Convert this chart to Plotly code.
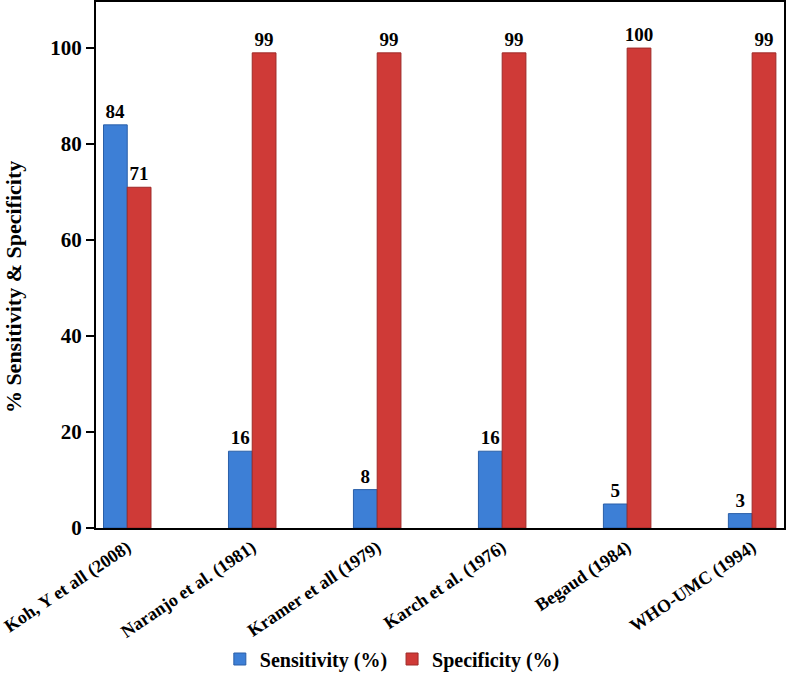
import plotly.graph_objects as go

studies = ["Koh, Y et all (2008)", "Naranjo et al. (1981)", "Kramer et all (1979)",
           "Karch et al. (1976)", "Begaud (1984)", "WHO-UMC (1994)"]
sensitivity = [84, 16, 8, 16, 5, 3]
specificity = [71, 99, 99, 99, 100, 99]

FONT = "Liberation Serif"
blue = "#3d7fd6"
red = "#cf3a37"

fig = go.Figure()
fig.add_trace(go.Bar(
    x=studies, y=sensitivity, name="Sensitivity (%)",
    marker=dict(color=blue, line=dict(color="#2a5fa8", width=1)),
    text=[str(v) for v in sensitivity], textposition="outside", constraintext="none",
    textfont=dict(family=FONT, size=19, color="black", weight="bold"), cliponaxis=False,
))
fig.add_trace(go.Bar(
    x=studies, y=specificity, name="Specificity (%)",
    marker=dict(color=red, line=dict(color="#9e2a28", width=1)),
    text=[str(v) for v in specificity], textposition="outside", constraintext="none",
    textfont=dict(family=FONT, size=19, color="black", weight="bold"), cliponaxis=False,
))

fig.update_layout(
    width=787, height=697,
    margin=dict(l=96, r=3, t=2, b=169, autoexpand=False),
    paper_bgcolor="white", plot_bgcolor="white",
    barmode="group", bargap=0.62, bargroupgap=0,
    font=dict(family=FONT, color="black"),
    legend=dict(orientation="h", x=0.18, xanchor="left", y=-0.212, yanchor="top",
                font=dict(family=FONT, size=20, color="black", weight="bold"),
                itemwidth=30, traceorder="normal"),
    showlegend=True,
    annotations=[dict(
        text="<b>% Sensitivity & Specificity</b>", textangle=-90,
        xref="paper", yref="paper", x=-0.1206, y=0.458,
        xanchor="center", yanchor="middle", showarrow=False,
        font=dict(family=FONT, size=22, color="black"),
    )],
)
fig.update_yaxes(
    range=[0, 109.6], tickvals=[0, 20, 40, 60, 80, 100],
    showgrid=False, zeroline=False, automargin=False,
    showline=True, linecolor="black", linewidth=2, mirror=True,
    ticks="outside", ticklen=8, tickwidth=2, tickcolor="black",
    tickfont=dict(family=FONT, size=21, color="black", weight="bold"),
)
fig.update_xaxes(
    range=[-0.25, 5.255], automargin=False,
    showgrid=False, showline=True, linecolor="black", linewidth=2, mirror=True,
    ticks="", tickangle=-34,
    tickfont=dict(family=FONT, size=18, color="black", weight="bold"),
)

fig.write_html("out.html", config={"displayModeBar": False},
               post_script="document.body.style.margin='0';")
